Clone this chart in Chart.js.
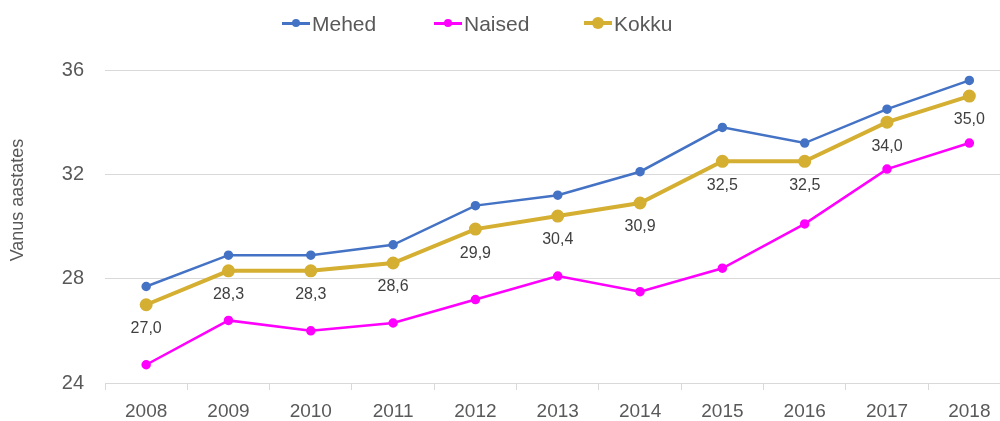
<!DOCTYPE html>
<html>
<head>
<meta charset="utf-8">
<script src="https://cdn.jsdelivr.net/npm/chart.js@4/dist/chart.umd.min.js"></script>
<style>
  html, body { margin: 0; padding: 0; background: #fff; overflow: hidden; }
  #wrap { position: relative; width: 1019px; height: 421px; }
  #legend { position: absolute; top: 10px; left: 0; width: 1000px; height: 28px;
            font-family: "Liberation Sans", Arial, sans-serif; font-size: 21px; color: #595959; }
  .item { position: absolute; top: 0; height: 28px; line-height: 28px; white-space: nowrap; }
  .sw { position: absolute; top: 12px; left: 0; width: 28px; }
  .dot { position: absolute; border-radius: 50%; }
  .txt { position: absolute; left: 30px; top: 0; }
</style>
</head>
<body>
<div id="wrap">
  <canvas id="chart" width="1019" height="421"></canvas>
  <div id="legend">
    <div class="item" style="left:282px">
      <div class="sw" style="height:3px;background:#4472C4"></div>
      <div class="dot" style="left:10px;top:9px;width:8px;height:8px;background:#4472C4"></div>
      <span class="txt">Mehed</span>
    </div>
    <div class="item" style="left:434px">
      <div class="sw" style="height:3px;background:#FF00FF"></div>
      <div class="dot" style="left:10px;top:9px;width:8px;height:8px;background:#FF00FF"></div>
      <span class="txt">Naised</span>
    </div>
    <div class="item" style="left:584px">
      <div class="sw" style="height:4px;top:11px;background:#D4AF32"></div>
      <div class="dot" style="left:8px;top:7px;width:12px;height:12px;background:#D4AF32"></div>
      <span class="txt">Kokku</span>
    </div>
  </div>
</div>
<script>
var years = ['2008', '2009', '2010', '2011', '2012', '2013', '2014', '2015', '2016', '2017', '2018'];
var mehed = [27.7, 28.9, 28.9, 29.3, 30.8, 31.2, 32.1, 33.8, 33.2, 34.5, 35.6];
var naised = [24.7, 26.4, 26.0, 26.3, 27.2, 28.1, 27.5, 28.4, 30.1, 32.2, 33.2];
var kokku = [27.0, 28.3, 28.3, 28.6, 29.9, 30.4, 30.9, 32.5, 32.5, 34.0, 35.0];
var yTicks = [24, 28, 32, 36];
var yTitle = 'Vanus aastates';

// value labels under the Kokku points + y axis title
var labelPlugin = {
    id: 'labelPlugin',
    afterDatasetsDraw: function(chart) {
        var ctx = chart.ctx;
        var meta = chart.getDatasetMeta(2);
        ctx.save();
        ctx.font = '16px "Liberation Sans", Arial, sans-serif';
        ctx.fillStyle = '#404040';
        ctx.textAlign = 'center';
        ctx.textBaseline = 'middle';
        meta.data.forEach(function(pt, i) {
            ctx.fillText(kokku[i].toFixed(1).replace('.', ','), pt.x, pt.y + 24);
        });
        ctx.translate(18, 200);
        ctx.rotate(-Math.PI / 2);
        ctx.font = '18px "Liberation Sans", Arial, sans-serif';
        ctx.fillStyle = '#595959';
        ctx.fillText(yTitle, 0, 0);
        ctx.restore();
    }
};

var ctx = document.getElementById('chart').getContext('2d');
new Chart(ctx, {
    type: 'line',
    data: {
        labels: years,
        datasets: [
            {
                label: 'Mehed',
                data: mehed,
                borderColor: '#4472C4',
                backgroundColor: '#4472C4',
                borderWidth: 2.5,
                pointRadius: 3.5,
                tension: 0
            },
            {
                label: 'Naised',
                data: naised,
                borderColor: '#FF00FF',
                backgroundColor: '#FF00FF',
                borderWidth: 2.5,
                pointRadius: 3.5,
                tension: 0
            },
            {
                label: 'Kokku',
                data: kokku,
                borderColor: '#D4AF32',
                backgroundColor: '#D4AF32',
                borderWidth: 4,
                pointRadius: 4.5,
                tension: 0
            }
        ]
    },
    options: {
        responsive: false,
        animation: false,
        events: [],
        layout: { padding: { top: 70, right: 1, bottom: 0, left: 0 } },
        plugins: {
            legend: { display: false },
            tooltip: { enabled: false }
        },
        scales: {
            x: {
                offset: true,
                afterFit: function(scale) { scale.height = 38; },
                grid: { offset: true, drawOnChartArea: false, drawTicks: true, tickLength: 7, color: '#D9D9D9' },
                border: { display: true, color: '#D9D9D9', width: 1 },
                ticks: { color: '#595959', font: { family: '"Liberation Sans", Arial, sans-serif', size: 19 }, padding: 10, maxRotation: 0 }
            },
            y: {
                min: 24,
                max: 36,
                afterBuildTicks: function(scale) {
                    scale.ticks = yTicks.map(function(v) { return { value: v }; });
                },
                afterFit: function(scale) { scale.width = 105; },
                grid: { drawTicks: false, color: '#D9D9D9', lineWidth: 1 },
                border: { display: false },
                ticks: { color: '#595959', font: { family: '"Liberation Sans", Arial, sans-serif', size: 20 }, padding: 21 }
            }
        }
    },
    plugins: [labelPlugin]
});
</script>
</body>
</html>
